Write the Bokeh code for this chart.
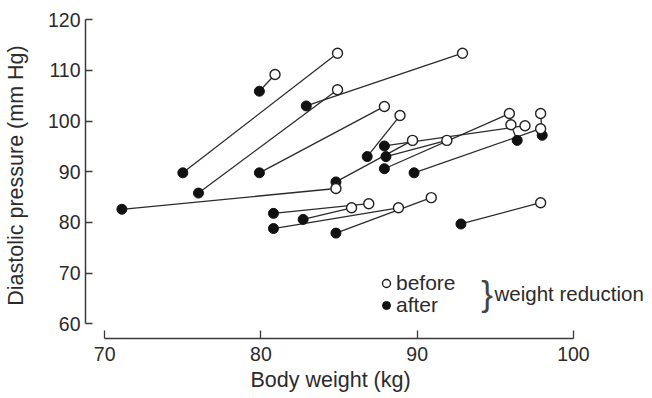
from bokeh.plotting import figure
from bokeh.models import (ColumnDataSource, Range1d, FixedTicker, Legend,
                          LegendItem, Label, Title)
from bokeh.embed import file_html
from bokeh.resources import INLINE

# Body weight (kg) and diastolic pressure (mm Hg) before / after weight reduction
before_weight = [80.9, 84.9, 84.9, 92.9, 87.9, 84.8, 88.9, 96.9, 91.9, 95.9,
                 89.7, 97.9, 96.0, 97.9, 86.9, 85.8, 88.8, 90.9, 97.9]
before_bp = [109.2, 113.4, 106.2, 113.4, 102.9, 86.7, 101.1, 99.1, 96.2, 101.5,
             96.2, 98.5, 99.3, 101.5, 83.7, 82.9, 82.9, 84.9, 83.9]
after_weight = [79.9, 75.0, 76.0, 82.9, 79.9, 71.1, 86.8, 87.9, 88.0, 87.9,
                84.8, 89.8, 96.4, 98.0, 80.8, 82.7, 80.8, 84.8, 92.8]
after_bp = [105.9, 89.8, 85.8, 103.0, 89.8, 82.6, 93.0, 95.1, 93.0, 90.6,
            88.0, 89.8, 96.2, 97.2, 81.8, 80.6, 78.8, 77.9, 79.7]

x_ticks = [70, 80, 90, 100]
y_ticks = [60, 70, 80, 90, 100, 110, 120]

FONT = "Liberation Sans"
INK = "#2b2b2b"

src = ColumnDataSource(dict(bx=before_weight, by=before_bp,
                            ax=after_weight, ay=after_bp))

p = figure(width=652, height=398, output_backend="svg", toolbar_location=None,
           x_range=Range1d(68.77, 105.06), y_range=Range1d(57.10, 121.44),
           min_border_left=85, min_border_right=0, min_border_top=12,
           min_border_bottom=60)
p.outline_line_color = None
p.grid.visible = False
p.background_fill_color = "white"
p.border_fill_color = "white"

p.segment(x0="ax", y0="ay", x1="bx", y1="by", source=src,
          line_color=INK, line_width=1.3)
r_after = p.scatter(x="ax", y="ay", source=src, size=10, marker="circle",
                    fill_color="#111111", line_color="#111111")
r_before = p.scatter(x="bx", y="by", source=src, size=10, marker="circle",
                     fill_color="white", line_color="#222222", line_width=1.4)

for ax in (p.xaxis[0], p.yaxis[0]):
    ax.major_tick_out = 0
    ax.minor_tick_in = 0
    ax.minor_tick_out = 0
    ax.axis_line_width = 1.5
    ax.axis_line_color = "#3a3a3a"
    ax.major_tick_line_color = "#3a3a3a"
    ax.major_tick_line_width = 1.3
    ax.major_label_text_font = FONT
    ax.major_label_text_font_size = "19.5px"
    ax.major_label_text_color = INK
    ax.axis_label_text_font = FONT
    ax.axis_label_text_font_size = "21.5px"
    ax.axis_label_text_font_style = "normal"
    ax.axis_label_text_color = INK

p.xaxis.bounds = (70, 100)
p.xaxis.ticker = FixedTicker(ticks=x_ticks)
p.xaxis.major_tick_in = 8
p.xaxis.major_label_standoff = 8

# x-axis title, centred under the bounded axis rather than the whole frame
p.add_layout(Title(text="Body weight (kg)", align="left", offset=165,
                   standoff=4, text_font=FONT, text_font_size="21.5px",
                   text_font_style="normal", text_color=INK), "below")

p.yaxis.bounds = (60, 120)
p.yaxis.ticker = FixedTicker(ticks=y_ticks)
p.yaxis.major_tick_in = 7
p.yaxis.major_label_standoff = 5
p.yaxis.axis_label = "Diastolic pressure (mm Hg)"
p.yaxis.axis_label_standoff = 17

legend_style = dict(border_line_color=None, background_fill_alpha=0,
                    padding=0, margin=0, spacing=0, glyph_width=20,
                    glyph_height=20, label_standoff=0, label_text_font=FONT,
                    label_text_font_size="21px", label_text_color=INK)
p.add_layout(Legend(items=[LegendItem(label="before", renderers=[r_before])],
                    location=(291, 43), **legend_style))
p.add_layout(Legend(items=[LegendItem(label="after", renderers=[r_after])],
                    location=(291, 21), **legend_style))

p.add_layout(Label(x=94.1, y=65.9, text="}", text_font=FONT,
                   text_font_size="35px", text_baseline="middle",
                   text_align="left", text_color="#444444"))
p.add_layout(Label(x=94.95, y=65.9, text="weight reduction", text_font=FONT,
                   text_font_size="20.5px", text_baseline="middle",
                   text_align="left", text_color=INK))

open("out.html", "w").write(file_html(p, INLINE))
